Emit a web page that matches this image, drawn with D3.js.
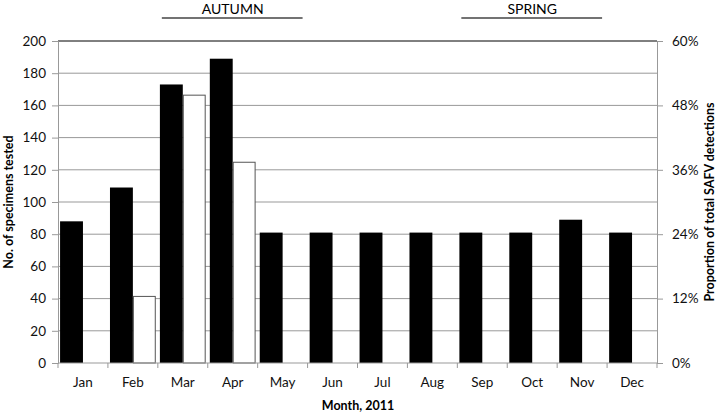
<!DOCTYPE html>
<html><head><meta charset="utf-8">
<script src="https://cdn.jsdelivr.net/npm/d3@7"></script>
<style>body{margin:0;background:#fff}svg{display:block;font-family:Lato,"Open Sans",sans-serif}</style>
</head><body><svg id="c" width="722" height="414"></svg>
<script>
const months = ["Jan","Feb","Mar","Apr","May","Jun","Jul","Aug","Sep","Oct","Nov","Dec"];
const specimens = [88,109,173,189,81,81,81,81,81,81,89,81];
const proportion = [0,0.125,0.50,0.375,0,0,0,0,0,0,0,0];
const leftTicks = [0,20,40,60,80,100,120,140,160,180,200];
const rightTicks = [0,0.12,0.24,0.36,0.48,0.60];
const seasons = [{name:"AUTUMN",from:"Mar",to:"May"},{name:"SPRING",from:"Sep",to:"Nov"}];

const svg = d3.select("#c");
const L=58,R=657,T=41,B=363;
const x = d3.scaleBand().domain(months).range([L,R]);
const yL = d3.scaleLinear().domain([0,200]).range([B,T]);
const yR = d3.scaleLinear().domain([0,0.6]).range([B,T]);
const sub = d3.scaleBand().domain(["s","p"]).range([0,x.bandwidth()]).paddingOuter(0.09).paddingInner(0);

// gridlines
svg.append("g").selectAll("line").data(leftTicks.filter(d=>d>0)).join("line")
  .attr("x1",L).attr("x2",R).attr("y1",d=>yL(d)).attr("y2",d=>yL(d))
  .attr("stroke",d=>d===200?"#000":"#999").attr("stroke-width",1);

// bars
const g = svg.append("g");
g.selectAll("rect.s").data(months).join("rect").attr("class","s")
  .attr("x",d=>x(d)+sub("s")).attr("width",sub.bandwidth())
  .attr("y",(d,i)=>yL(specimens[i])).attr("height",(d,i)=>B-yL(specimens[i]))
  .attr("fill","#000");
g.selectAll("rect.p").data(months.filter((d,i)=>proportion[i]>0)).join("rect").attr("class","p")
  .attr("x",d=>x(d)+sub("p")+0.5).attr("width",sub.bandwidth()-1)
  .attr("y",d=>yR(proportion[months.indexOf(d)])+0.5)
  .attr("height",d=>B-yR(proportion[months.indexOf(d)])-0.5)
  .attr("fill","#fff").attr("stroke","#555").attr("stroke-width",1);

// axes
const axL = svg.append("g").attr("transform",`translate(${L},0)`)
  .call(d3.axisLeft(yL).tickValues(leftTicks).tickSize(6).tickPadding(6));
const axR = svg.append("g").attr("transform",`translate(${R},0)`)
  .call(d3.axisRight(yR).tickValues(rightTicks).tickFormat(d3.format(".0%")).tickSize(6).tickPadding(9));
const axB = svg.append("g").attr("transform",`translate(0,${B})`)
  .call(d3.axisBottom(x).tickSize(0).tickPadding(14));
axB.selectAll(".tick").append("line").attr("x1",-x.bandwidth()/2).attr("x2",-x.bandwidth()/2).attr("y1",0).attr("y2",5).attr("stroke","#999");
axB.append("line").attr("x1",R).attr("x2",R).attr("y1",0).attr("y2",5).attr("stroke","#999");
[axL,axR,axB].forEach(a=>{
  a.selectAll(".domain").attr("stroke","#999");
  a.selectAll(".tick line").attr("stroke","#999");
  a.selectAll("text").attr("font-size",13.5).attr("fill","#111").attr("font-family","Lato,'Open Sans',sans-serif");
});
axB.select(".domain").attr("d",`M${L},0H${R}`);

// titles
svg.append("text").attr("transform","translate(13,202) rotate(-90)").attr("text-anchor","middle")
  .attr("font-weight","bold").attr("font-size",12.5).text("No. of specimens tested");
svg.append("text").attr("transform","translate(714,202) rotate(-90)").attr("text-anchor","middle")
  .attr("font-weight","bold").attr("font-size",12.5).text("Proportion of total SAFV detections");
svg.append("text").attr("x",358).attr("y",410).attr("text-anchor","middle")
  .attr("font-weight","bold").attr("font-size",12.5).text("Month, 2011");

// seasons
const sg = svg.append("g").selectAll("g").data(seasons).join("g");
sg.append("line").attr("x1",d=>x(d.from)+4).attr("x2",d=>x(d.to)+x.bandwidth()-5)
  .attr("y1",18).attr("y2",18).attr("stroke","#444").attr("stroke-width",1.5);
sg.append("text").attr("x",d=>(x(d.from)+x(d.to)+x.bandwidth())/2).attr("y",14)
  .attr("text-anchor","middle").attr("font-size",14).text(d=>d.name);
</script></body></html>
